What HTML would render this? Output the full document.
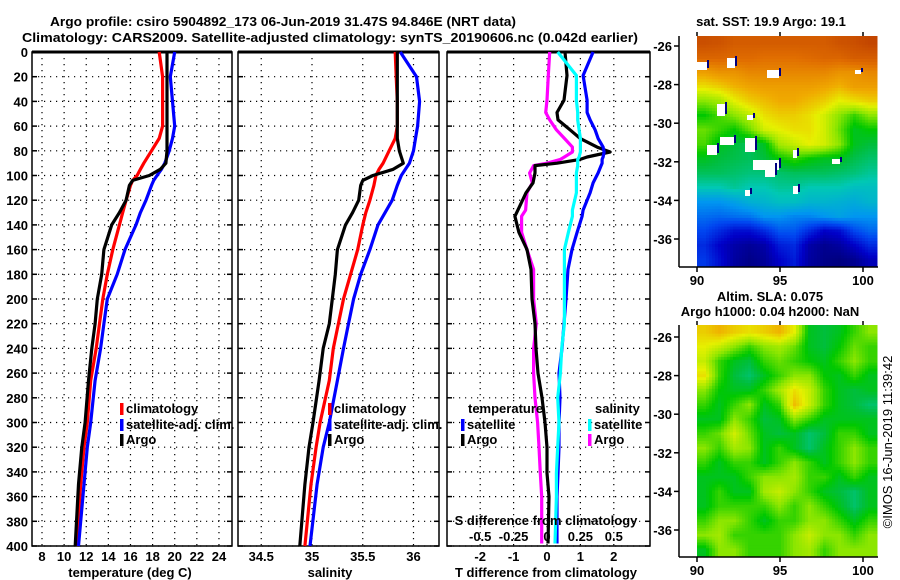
<!DOCTYPE html>
<html><head><meta charset="utf-8"><style>
html,body{margin:0;padding:0;background:#fff}
svg{display:block}
text{font-family:"Liberation Sans",Arial,sans-serif;font-weight:bold;font-size:13px;fill:#000}
text.normal{font-weight:normal}
</style></head><body>
<svg id="fig" width="900" height="580" viewBox="0 0 900 580" xmlns="http://www.w3.org/2000/svg">
<text x="50" y="26" textLength="466" lengthAdjust="spacingAndGlyphs" font-size="14">Argo profile: csiro 5904892_173 06-Jun-2019 31.47S 94.846E (NRT data)</text>
<text x="22" y="42" textLength="616" lengthAdjust="spacingAndGlyphs" font-size="14">Climatology: CARS2009. Satellite-adjusted climatology: synTS_20190606.nc (0.042d earlier)</text>
<g id="plots"></g>
</svg>
<script>
// ---------- data ----------
const depthTicks = [0,20,40,60,80,100,120,140,160,180,200,220,240,260,280,300,320,340,360,380,400];
const profDepth = [0,20,40,60,70,80,90,95,100,104,108,120,130,140,160,180,200,220,240,266,300,320,350,400];
const tempClim = [18.6,18.9,18.9,18.9,18.6,17.9,17.2,16.9,16.6,16.2,16.0,15.6,15.3,15.0,14.4,13.9,13.5,13.2,12.9,12.4,12.1,11.8,11.5,11.1];
const tempSat  = [20.0,19.6,19.8,20.0,19.8,19.5,19.1,18.8,18.4,18.1,17.9,17.4,16.9,16.5,15.5,14.8,13.9,13.6,13.3,12.8,12.4,12.1,11.8,11.3];
const tempArgo = [19.3,19.3,19.3,19.3,19.3,19.3,19.2,18.7,17.7,16.2,15.9,15.6,15.0,14.3,13.6,13.4,13.0,12.8,12.5,12.2,11.9,11.6,11.3,11.0];
const salClim = [35.82,35.83,35.84,35.84,35.82,35.76,35.70,35.66,35.63,35.62,35.61,35.57,35.53,35.50,35.45,35.38,35.31,35.26,35.21,35.17,35.08,35.04,34.99,34.93];
const salSat  = [35.87,36.03,36.06,36.04,36.02,36.00,35.96,35.92,35.88,35.86,35.84,35.79,35.72,35.65,35.57,35.48,35.41,35.36,35.31,35.25,35.17,35.11,35.05,34.98];
const salArgo = [35.84,35.84,35.84,35.84,35.84,35.86,35.90,35.80,35.60,35.50,35.48,35.46,35.40,35.33,35.25,35.23,35.20,35.17,35.11,35.07,35.01,34.97,34.93,34.88];
const diffDepth = [0,19,39,49,55,63,70,77,81,85,87,90,92,98,106,114,128,133,146,160,176,200,220,240,260,280,300,320,341,360,398];
const dTSat  = [1.38,1.08,1.2,1.2,1.29,1.44,1.53,1.68,1.71,1.68,1.65,1.65,1.62,1.53,1.38,1.29,1.08,1.05,0.9,0.75,0.63,0.57,0.51,0.45,0.36,0.39,0.36,0.36,0.33,0.3,0.3];
const dTArgo = [0.54,0.6,0.51,0.3,0.33,0.69,0.99,1.5,1.89,1.2,0.99,0.3,-0.36,-0.36,-0.42,-0.63,-0.87,-0.96,-0.84,-0.6,-0.48,-0.45,-0.36,-0.33,-0.27,-0.15,-0.06,0,0,0.06,0.03];
const dSArgo = [0.02,0.01,0,-0.01,0.02,0.07,0.13,0.19,0.19,0.13,0.1,0,-0.1,-0.13,-0.11,-0.15,-0.16,-0.19,-0.19,-0.15,-0.1,-0.1,-0.08,-0.1,-0.1,-0.09,-0.07,-0.06,-0.05,-0.04,-0.04];
const dSSat  = [0.08,0.22,0.22,0.23,0.23,0.24,0.25,0.25,0.25,0.24,0.23,0.23,0.23,0.22,0.22,0.22,0.19,0.19,0.16,0.13,0.13,0.13,0.13,0.11,0.1,0.08,0.09,0.08,0.07,0.07,0.06];
const tempTicks = [8,10,12,14,16,18,20,22,24];
const salTicks = [34.5,35,35.5,36];
const dTTicks = [-2,-1,0,1,2];
const dSTicks = [-0.5,-0.25,0,0.25,0.5];
const dSTickLabels = ['-0.5','-0.25','0','0.25','0.5'];
const latTicks = [-26,-28,-30,-32,-34,-36];
const lonTicks = [90,95,100];
const sstGrid = [
[.93,.92,.9,.9,.9,.9,.9,.9,.9,.92,.93,.95],
[.88,.88,.87,.87,.86,.86,.86,.87,.88,.88,.9,.9],
[.78,.8,.8,.82,.82,.82,.82,.82,.82,.8,.8,.82],
[.7,.72,.75,.77,.78,.78,.78,.78,.77,.75,.78,.78],
[.6,.62,.68,.72,.74,.76,.76,.74,.72,.68,.7,.72],
[.52,.56,.6,.64,.7,.72,.72,.7,.66,.6,.55,.6],
[.58,.55,.52,.58,.66,.68,.7,.7,.66,.58,.5,.52],
[.56,.5,.48,.46,.5,.62,.65,.68,.66,.6,.5,.48],
[.5,.48,.47,.46,.48,.52,.55,.52,.5,.5,.47,.45],
[.46,.46,.45,.44,.44,.45,.46,.46,.46,.45,.44,.42],
[.4,.4,.42,.4,.4,.42,.42,.4,.4,.4,.38,.38],
[.3,.3,.32,.35,.36,.38,.38,.36,.36,.35,.34,.36],
[.25,.24,.25,.26,.3,.3,.28,.28,.3,.32,.3,.3],
[.2,.16,.12,.12,.16,.22,.22,.16,.1,.12,.2,.24],
[.16,.1,.06,.04,.06,.14,.16,.06,.03,.05,.1,.16],
[.18,.12,.05,.02,.04,.1,.14,.05,.02,.01,.03,.08]];
const slaGrid = [
[.72,.75,.72,.7,.72,.75,.68,.5,.48,.5,.55,.6],
[.68,.65,.6,.55,.6,.62,.58,.5,.48,.52,.58,.55],
[.65,.55,.5,.48,.55,.58,.55,.52,.5,.55,.6,.55],
[.7,.55,.48,.45,.5,.55,.6,.6,.52,.5,.55,.5],
[.6,.52,.5,.5,.55,.62,.7,.65,.55,.5,.48,.5],
[.55,.5,.55,.6,.5,.55,.74,.65,.55,.5,.48,.45],
[.5,.5,.6,.55,.48,.5,.6,.55,.5,.5,.5,.5],
[.55,.58,.66,.58,.5,.48,.5,.45,.48,.55,.55,.5],
[.6,.55,.62,.6,.5,.55,.5,.45,.5,.55,.6,.55],
[.55,.5,.55,.55,.5,.55,.6,.55,.5,.55,.6,.55],
[.5,.5,.5,.55,.6,.6,.62,.55,.55,.5,.55,.5],
[.5,.55,.5,.5,.62,.65,.6,.55,.5,.48,.45,.5],
[.5,.55,.55,.55,.55,.6,.55,.6,.55,.5,.45,.5],
[.55,.6,.6,.55,.5,.55,.55,.6,.6,.55,.5,.55],
[.6,.62,.55,.55,.55,.55,.6,.65,.6,.6,.55,.6],
[.5,.6,.6,.55,.55,.55,.6,.62,.55,.6,.6,.6]];

// ---------- helpers ----------
const NS='http://www.w3.org/2000/svg';
const root=document.getElementById('plots');
function mk(tag,attrs,parent){const e=document.createElementNS(NS,tag);for(const k in attrs)e.setAttribute(k,attrs[k]);(parent||root).appendChild(e);return e;}
function txt(x,y,s,anchor,parent,size){const t=mk('text',{x:x,y:y,'text-anchor':anchor||'start'},parent);if(size)t.setAttribute('font-size',size);t.textContent=s;return t;}
const Y0=52, YS=1.235;
const yD=d=>Y0+d*YS;
const xT=v=>42+(v-8)*11.06;
const xS=v=>312+(v-35)*101.5;
const xDT=v=>547+v*33.4;
const xDS=v=>547+v*133.6;

function panel(name,x0,x1,xTicksArr,xf){
  const g=mk('g',{});
  
  
  depthTicks.forEach(d=>{const l=mk('line',{x1:x0,x2:x1,y1:yD(d),y2:yD(d),stroke:'#000','stroke-width':1.2,'stroke-dasharray':'1.2 4.8'},g);
    
    mk('line',{x1:x0,x2:x0+5,y1:yD(d),y2:yD(d),stroke:'#000','stroke-width':1.5},g);
    mk('line',{x1:x1-5,x2:x1,y1:yD(d),y2:yD(d),stroke:'#000','stroke-width':1.5},g);});
  xTicksArr.forEach(v=>{const l=mk('line',{x1:xf(v),x2:xf(v),y1:Y0,y2:yD(400),stroke:'#000','stroke-width':1.2,'stroke-dasharray':'1.2 4.8'},g);
    });
  const r=mk('rect',{x:x0,y:Y0,width:x1-x0,height:yD(400)-Y0,fill:'none',stroke:'#000','stroke-width':1.5},g);
  
  mk('line',{x1:x0,x2:x1,y1:Y0,y2:Y0,stroke:'#000','stroke-width':3},g);
  return g;
}
function series(g,name,vals,depths,xf,color){
  const pts=vals.map((v,i)=>xf(v).toFixed(1)+','+yD(depths[i]).toFixed(1)).join(' ');
  const p=mk('polyline',{points:pts,fill:'none',stroke:color,'stroke-width':3.2,'stroke-linejoin':'round'},g);
  
  
}
function legendEntry(g,x,y,color,label,name){
  const e=mk('g',{},g);
  
  
  mk('rect',{x:x,y:y-10,width:3.5,height:12,fill:color},e);
  txt(x+6,y,label,'start',e);
}

depthTicks.forEach(d=>{const t=txt(28,yD(d)+5,String(d),'end');
  });

const p1=panel('temperature-panel',32,232,tempTicks,xT);
series(p1,'temperature-climatology-line',tempClim,profDepth,xT,'#ff0000');
series(p1,'temperature-satellite-line',tempSat,profDepth,xT,'#0000ff');
series(p1,'temperature-argo-line',tempArgo,profDepth,xT,'#000000');
tempTicks.forEach(v=>{const t=txt(xT(v),561,String(v),'middle',p1);});
const a1=txt(130,577,'temperature (deg C)','middle',p1);
legendEntry(p1,120,413,'#ff0000','climatology','legend-climatology');
legendEntry(p1,120,429,'#0000ff','satellite-adj. clim.','legend-satellite-adj');
legendEntry(p1,120,444,'#000000','Argo','legend-argo');

const p2=panel('salinity-panel',238,439,salTicks,xS);
series(p2,'salinity-climatology-line',salClim,profDepth,xS,'#ff0000');
series(p2,'salinity-satellite-line',salSat,profDepth,xS,'#0000ff');
series(p2,'salinity-argo-line',salArgo,profDepth,xS,'#000000');
salTicks.forEach(v=>{const t=txt(xS(v),561,String(v),'middle',p2);});
const a2=txt(330,577,'salinity','middle',p2);
legendEntry(p2,328,413,'#ff0000','climatology','legend-climatology');
legendEntry(p2,328,429,'#0000ff','satellite-adj. clim.','legend-satellite-adj');
legendEntry(p2,328,444,'#000000','Argo','legend-argo');

const p3=panel('difference-panel',447,650,dTTicks,xDT);
series(p3,'salinity-diff-argo-line',dSArgo,diffDepth,xDS,'#ff00ff');
series(p3,'temperature-diff-argo-line',dTArgo,diffDepth,xDT,'#000000');
series(p3,'temperature-diff-satellite-line',dTSat,diffDepth,xDT,'#0000ff');
series(p3,'salinity-diff-satellite-line',dSSat,diffDepth,xDS,'#00ffff');
dTTicks.forEach(v=>{const t=txt(xDT(v),561,String(v),'middle',p3);});
dSTicks.forEach((v,i)=>{const t=txt(xDS(v),541,dSTickLabels[i],'middle',p3);});
const a3=txt(546,577,'T difference from climatology','middle',p3);
const a4=txt(546,525,'S difference from climatology','middle',p3);
const lt=txt(468,413,'temperature','start',p3);
legendEntry(p3,461,429,'#0000ff','satellite','legend-t-satellite');
legendEntry(p3,461,444,'#000000','Argo','legend-t-argo');
const ls=txt(595,413,'salinity','start',p3);
legendEntry(p3,588,429,'#00ffff','satellite','legend-s-satellite');
legendEntry(p3,588,444,'#ff00ff','Argo','legend-s-argo');

// ---------- maps ----------
const stops=[[0,[0,0,120]],[.1,[0,0,200]],[.2,[0,70,240]],[.3,[0,150,240]],[.4,[0,200,180]],[.48,[0,190,60]],[.52,[0,200,0]],[.6,[140,230,0]],[.68,[230,240,0]],[.76,[240,170,0]],[.86,[225,110,0]],[.95,[195,70,0]],[1,[170,40,0]]];
function cmap(v){v=Math.max(0,Math.min(1,v));for(let i=1;i<stops.length;i++){if(v<=stops[i][0]){const a=stops[i-1],b=stops[i],t=(v-a[0])/(b[0]-a[0]);return 'rgb('+a[1].map((c,k)=>Math.round(c+(b[1][k]-c)*t)).join(',')+')';}}return 'rgb(170,40,0)';}
function sample(grid,fr,fc){const R=grid.length-1,C=grid[0].length-1;
  const r=Math.max(0,Math.min(R,fr)),c=Math.max(0,Math.min(C,fc));
  const r0=Math.floor(r),c0=Math.floor(c),r1=Math.min(R,r0+1),c1=Math.min(C,c0+1),tr=r-r0,tc=c-c0;
  return grid[r0][c0]*(1-tr)*(1-tc)+grid[r0][c1]*(1-tr)*tc+grid[r1][c0]*tr*(1-tc)+grid[r1][c1]*tr*tc;}
function mapPanel(name,top,bottom,latTop,latStep,grid){
  const g=mk('g',{});
  
  
  const mx0=697,mx1=877,rows=grid.length,cols=grid[0].length,F=5;
  const nR=rows*F,nC=cols*F;
  const cw=(mx1-mx0)/nC,ch=(bottom-top)/nR;
  for(let r=0;r<nR;r++)for(let c=0;c<nC;c++){
    const v=sample(grid,(r+0.5)/F-0.5,(c+0.5)/F-0.5);
    mk('rect',{x:(mx0+c*cw).toFixed(2),y:(top+r*ch).toFixed(2),width:(cw+0.5).toFixed(2),height:(ch+0.5).toFixed(2),fill:cmap(v)},g);}
  const latY=l=>latTop+(-26-l)*latStep;
  const lonX=l=>697+(l-90)*16.6;
  mk('line',{x1:679,x2:679,y1:top,y2:bottom,stroke:'#000','stroke-width':1.5},g);
  mk('line',{x1:679,x2:878,y1:bottom,y2:bottom,stroke:'#000','stroke-width':1.5},g);
  latTicks.forEach(l=>{mk('line',{x1:674,x2:679,y1:latY(l),y2:latY(l),stroke:'#000','stroke-width':1.5},g);
    const t=txt(672,latY(l)+5,String(l),'end',g);});
  lonTicks.forEach(l=>{mk('line',{x1:lonX(l),x2:lonX(l),y1:bottom,y2:bottom+5,stroke:'#000','stroke-width':1.5},g);
    mk('line',{x1:lonX(l),x2:lonX(l),y1:top-4,y2:top,stroke:'#000','stroke-width':1.5},g);
    const t=txt(lonX(l),bottom+18,String(l),'middle',g);});
  return g;
}
const m1=mapPanel('sst-map',36,267,46,19.3,sstGrid);
[[697,62,10,8],[727,58,8,10],[767,70,12,8],[855,70,6,4],[717,104,8,12],[747,115,6,5],[720,137,14,8],[707,145,10,10],[745,138,10,14],[753,160,26,10],[765,165,10,12],[793,150,4,8],[832,159,8,5],[793,186,5,8],[745,190,5,6]].forEach(b=>{
  mk('rect',{x:b[0],y:b[1],width:b[2],height:b[3],fill:'#fff'},m1);
  mk('rect',{x:b[0]+b[2],y:b[1]-2,width:2,height:b[3],fill:'#000080'},m1);});
const tt1=txt(771,26,'sat. SST: 19.9 Argo: 19.1','middle');
const tt2=txt(770,301,'Altim. SLA: 0.075','middle');
const tt3=txt(770,316,'Argo h1000: 0.04 h2000: NaN','middle');
mapPanel('sla-map',325,557,337,19.3,slaGrid);
const cp=txt(0,0,'©IMOS 16-Jun-2019 11:39:42','middle');
cp.setAttribute('transform','translate(892,442) rotate(-90)');
cp.setAttribute('class','normal');


</script>
</body></html>
